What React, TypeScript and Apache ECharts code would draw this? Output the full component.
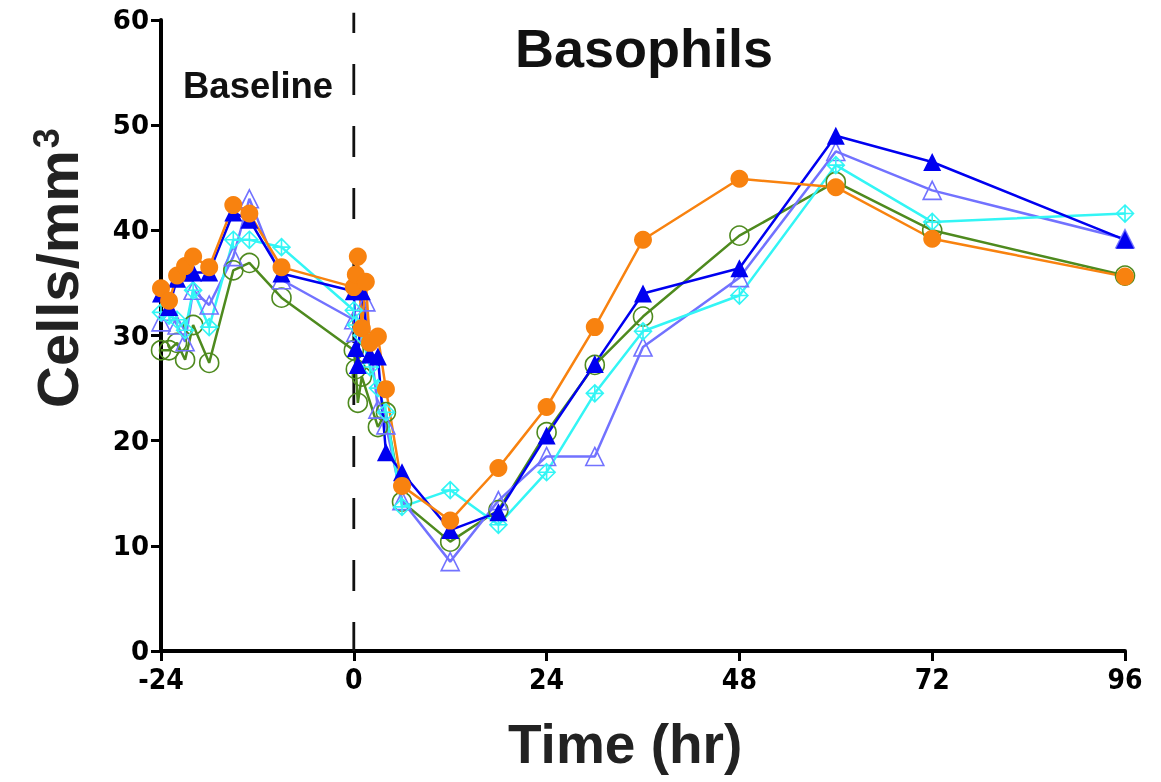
import React, { useEffect, useRef } from "react";
import * as echarts from "echarts";

// Sampling times (hr)
const TIMES = [-24, -23, -22, -21, -20, -18, -15, -13, -9, 0, 0.25, 0.5, 1, 1.5, 2, 3, 4, 6, 12, 18, 24, 30, 36, 48, 60, 72, 96];

// Basophil counts (cells/mm3) per subject
const ORANGE = [34.5, 33.3, 35.7, 36.6, 37.5, 36.5, 42.4, 41.6, 36.5, 34.6, 35.8, 37.5, 30.7, 35.1, 29.3, 29.9, 24.9, 15.7, 12.4, 17.4, 23.2, 30.8, 39.1, 44.9, 44.1, 39.2, 35.6];
const BLUE = [34.0, 32.7, 35.4, 36.0, 36.0, 36.0, 41.7, 41.0, 35.9, 34.2, 28.8, 27.2, 34.2, null, 28.2, 28.0, 18.9, 17.0, 11.5, 13.2, 20.5, 27.3, 34.0, 36.4, 49.0, 46.5, 39.1];
const PURPLE = [31.3, 32.3, 31.0, 29.4, 34.3, 32.9, 37.5, 43.0, 35.3, 31.5, 30.3, null, null, 33.2, null, 23.0, 21.5, 14.3, 8.5, 14.3, 18.5, 18.5, 28.9, 35.5, 47.5, 43.8, 39.2];
const CYAN = [32.2, 31.9, 31.5, 30.5, 34.3, 30.8, 39.1, 39.1, 38.4, 32.4, 31.0, null, 30.0, null, 27.0, 25.0, 22.7, 13.7, 15.3, 12.0, 17.0, 24.5, 30.4, 33.8, 46.2, 40.8, 41.6];
const GREEN = [28.6, 28.6, 29.3, 27.7, 31.0, 27.4, 36.2, 36.9, 33.6, 28.6, 26.8, 23.6, 26.1, null, null, 21.3, 22.7, 14.2, 10.4, 13.4, 20.8, 27.2, 31.8, 39.5, 44.6, 40.0, 35.7];

// Dosing reference line (time 0), from y=0 to just above the top
const DOSE_LINE = [[0, 0], [0, 60.7]];

const X_TICKS = [-24, 0, 24, 48, 72, 96];

const TITLE = "Basophils";
const BASELINE_LABEL = "Baseline";
const X_NAME = "Time (hr)";

const pair = (vals: (number | null)[]) =>
  TIMES.map((t, i) => (vals[i] == null ? null : [t, vals[i]])).filter((p) => p !== null);

const DIAMOND_CROSS = "path://M10,0 L20,10 L10,20 L0,10 Z M10,0 L10,20 M0,10 L20,10";

export default function App() {
  const ref = useRef<HTMLDivElement>(null);
  useEffect(() => {
    if (!ref.current) return;
    const chart = echarts.init(ref.current, null, { renderer: "svg" });
    const mk = (name: string, vals: (number | null)[], color: string, symbol: string, size: number, filled: boolean) => ({
      name,
      type: "line",
      data: pair(vals),
      connectNulls: true,
      symbol,
      symbolSize: size,
      lineStyle: { color, width: 2.5 },
      itemStyle: filled
        ? { color, borderColor: color, borderWidth: 0 }
        : { color: "rgba(255,255,255,0)", borderColor: color, borderWidth: 1.6 },
      emphasis: { disabled: true },
    });
    chart.setOption({
      animation: false,
      grid: { left: 161, right: 36, top: 20, bottom: 131 },
      xAxis: {
        type: "value",
        min: -24,
        max: 96,
        interval: 24,
        splitLine: { show: false },
        axisLine: { onZero: false, lineStyle: { color: "#000", width: 4 } },
        axisTick: { show: true, length: 10, lineStyle: { color: "#000", width: 3 } },
        axisLabel: {
          color: "#000",
          fontFamily: "'Liberation Sans Narrow', 'DejaVu Sans Condensed', 'Liberation Sans', sans-serif",
          fontWeight: "bold",
          fontSize: 28,
          margin: 14,
          formatter: (v: number) => (X_TICKS.includes(v) ? String(v) : ""),
        },
      },
      yAxis: {
        type: "value",
        min: 0,
        max: 60,
        interval: 10,
        splitLine: { show: false },
        axisLine: { show: true, onZero: false, lineStyle: { color: "#000", width: 4 } },
        axisTick: { show: true, length: 10, lineStyle: { color: "#000", width: 3 } },
        axisLabel: {
          color: "#000",
          fontFamily: "'DejaVu Sans', sans-serif",
          fontWeight: "bold",
          fontSize: 26,
          margin: 12,
        },
      },
      graphic: [
        {
          type: "text",
          left: 515,
          top: 21,
          style: { text: TITLE, fontSize: 54, fontWeight: "bold", fontFamily: "'Liberation Sans', Arial, sans-serif", fill: "#111" },
        },
        {
          type: "text",
          left: 183,
          top: 67,
          style: { text: BASELINE_LABEL, fontSize: 36.5, fontWeight: "bold", fontFamily: "'Liberation Sans', Arial, sans-serif", fill: "#111" },
        },
        {
          type: "text",
          left: 508,
          top: 716,
          style: { text: X_NAME, fontSize: 55, fontWeight: "bold", fontFamily: "'Liberation Sans Narrow', 'Liberation Sans', Arial, sans-serif", fill: "#222" },
        },
        {
          type: "text",
          x: 28,
          y: 408,
          rotation: Math.PI / 2,
          style: {
            text: "{a|Cells/mm}{s|3}",
            fill: "#222",
            rich: {
              a: { fontSize: 58, fontWeight: "bold", fontFamily: "'Liberation Sans', Arial, sans-serif", fill: "#222" },
              s: { fontSize: 36, fontWeight: "bold", fontFamily: "'Liberation Sans', Arial, sans-serif", fill: "#222", verticalAlign: "top", padding: [0, 0, 22, 2] },
            },
          },
        },
      ],
      series: [
        {
          name: "dose",
          type: "line",
          data: DOSE_LINE,
          symbol: "none",
          silent: true,
          clip: false,
          lineStyle: { color: "#111", width: 2.8, type: [31, 31], dashOffset: 2 },
          z: 1,
        },
        mk("green", GREEN, "#4E8A1E", "circle", 19, false),
        mk("purple", PURPLE, "#7272FF", "triangle", 18, false),
        mk("cyan", CYAN, "#33F5F5", DIAMOND_CROSS, 17, false),
        mk("blue", BLUE, "#0000F0", "triangle", 18, true),
        mk("orange", ORANGE, "#F8820F", "circle", 18, true),
      ],
    });
    return () => chart.dispose();
  }, []);
  return <div ref={ref} style={{ position: "fixed", left: 0, top: 0, width: 1161, height: 782 }} />;
}
